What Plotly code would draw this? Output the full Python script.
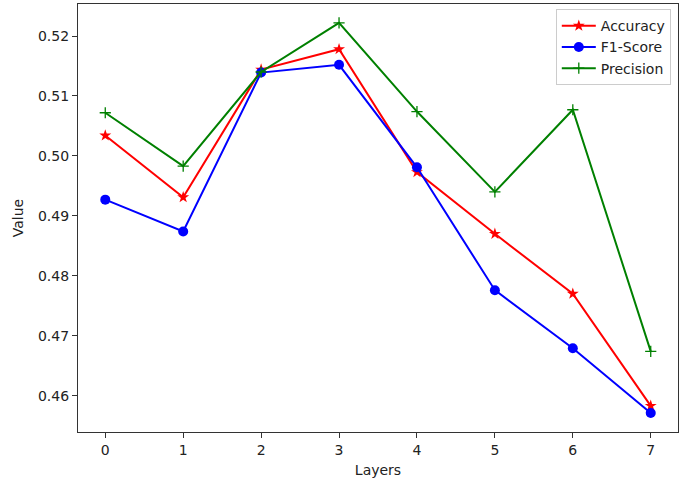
import plotly.graph_objects as go

layers = [0, 1, 2, 3, 4, 5, 6, 7]
accuracy = [0.5034, 0.4931, 0.5144, 0.5178, 0.4973, 0.4870, 0.4770, 0.4583]
f1_score = [0.4927, 0.4874, 0.5139, 0.5152, 0.4981, 0.4776, 0.4679, 0.4571]
precision = [0.5072, 0.4983, 0.5140, 0.5222, 0.5074, 0.4940, 0.5077, 0.4674]
y_ticks = [0.46, 0.47, 0.48, 0.49, 0.50, 0.51, 0.52]
y_tick_text = ["0.46", "0.47", "0.48", "0.49", "0.50", "0.51", "0.52"]

font = "DejaVu Sans"
fig = go.Figure()
fig.add_trace(go.Scatter(x=layers, y=accuracy, name="Accuracy", mode="lines+markers",
                         line=dict(color="#ff0000", width=2),
                         marker=dict(symbol="star", size=9, color="#ff0000")))
fig.add_trace(go.Scatter(x=layers, y=f1_score, name="F1-Score", mode="lines+markers",
                         line=dict(color="#0000ff", width=2),
                         marker=dict(symbol="circle", size=10, color="#0000ff")))
fig.add_trace(go.Scatter(x=layers, y=precision, name="Precision", mode="lines+markers",
                         line=dict(color="#008000", width=2),
                         marker=dict(symbol="cross-thin", size=8, color="#008000",
                                     line=dict(color="#008000", width=1.3))))

axis_common = dict(showline=True, mirror=True, linecolor="#333333", linewidth=1.2,
                   ticks="outside", ticklen=5, tickcolor="#333333", showgrid=False,
                   zeroline=False, automargin=False,
                   tickfont=dict(family=font, size=14, color="#222222"))
fig.update_layout(
    width=685, height=490,
    margin=dict(l=78, r=7, t=4, b=58),
    paper_bgcolor="white", plot_bgcolor="white",
    font=dict(family=font, size=14, color="#222222"),
    xaxis=dict(range=[-0.35, 7.35], tickvals=layers,
               title=dict(text="Layers", font=dict(family=font, size=14), standoff=8),
               **axis_common),
    yaxis=dict(range=[0.45394, 0.52534], tickvals=y_ticks, ticktext=y_tick_text,
               title=dict(text="Value", font=dict(family=font, size=14), standoff=11),
               **axis_common),
    legend=dict(x=0.988, y=0.988, xanchor="right", yanchor="top",
                bgcolor="rgba(255,255,255,0.8)", bordercolor="#cccccc", borderwidth=1,
                font=dict(family=font, size=14), itemwidth=34, tracegroupgap=0),
    showlegend=True,
)
fig.write_html("out.html", config={"displayModeBar": False},
               post_script="document.body.style.margin='0px';")
